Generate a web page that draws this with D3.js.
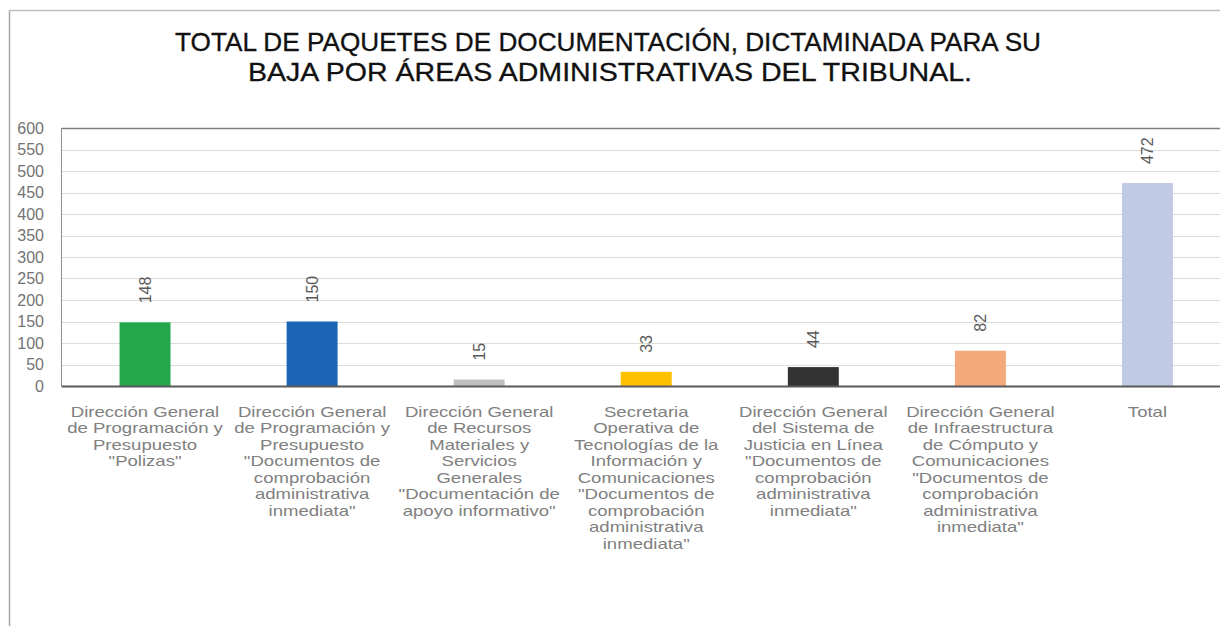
<!DOCTYPE html>
<html><head><meta charset="utf-8">
<script src="https://cdn.jsdelivr.net/npm/d3@7"></script>
<style>html,body{margin:0;padding:0;background:#fff;overflow:hidden}</style>
</head><body>
<script>
const titleLines = ["TOTAL DE PAQUETES DE DOCUMENTACIÓN, DICTAMINADA PARA SU", "BAJA POR ÁREAS ADMINISTRATIVAS DEL TRIBUNAL."];
const categories = [
  ["Dirección General", "de Programación y", "Presupuesto", "\"Polizas\""],
  ["Dirección General", "de Programación y", "Presupuesto", "\"Documentos de", "comprobación", "administrativa", "inmediata\""],
  ["Dirección General", "de Recursos", "Materiales y", "Servicios", "Generales", "\"Documentación de", "apoyo informativo\""],
  ["Secretaria", "Operativa de", "Tecnologías de la", "Información y", "Comunicaciones", "\"Documentos de", "comprobación", "administrativa", "inmediata\""],
  ["Dirección General", "del Sistema de", "Justicia en Línea", "\"Documentos de", "comprobación", "administrativa", "inmediata\""],
  ["Dirección General", "de Infraestructura", "de Cómputo y", "Comunicaciones", "\"Documentos de", "comprobación", "administrativa", "inmediata\""],
  ["Total"]
];
const values = [148, 150, 15, 33, 44, 82, 472];
const colors = ["#22a84b", "#1a66b5", "#bfbfbf", "#ffc000", "#333333", "#f4a97c", "#c1cae4"];
const yTicks = [0, 50, 100, 150, 200, 250, 300, 350, 400, 450, 500, 550, 600];

const W = 1220, H = 626;
const svg = d3.select("body").append("svg").attr("width", W).attr("height", H)
  .style("font-family", "'Liberation Sans', Arial, sans-serif");

// outer frame
svg.append("line").attr("x1", 9.5).attr("x2", 9.5).attr("y1", 10).attr("y2", H).attr("stroke", "#a6a6a6").attr("stroke-width", 1.5);
svg.append("line").attr("x1", 9).attr("x2", W).attr("y1", 10.5).attr("y2", 10.5).attr("stroke", "#bdbdbd").attr("stroke-width", 1.5);

// title
const tl = [[608, 51, 866], [610, 81, 724]];
titleLines.forEach((t, i) => {
  svg.append("text").attr("x", tl[i][0]).attr("y", tl[i][1]).attr("text-anchor", "middle")
    .attr("font-size", 25).attr("fill", "#111").attr("stroke", "#111").attr("stroke-width", 0.3)
    .attr("textLength", tl[i][2]).attr("lengthAdjust", "spacingAndGlyphs").text(t);
});

const plotL = 61.5, plotR = 1231, plotT = 128, plotB = 386;
const x = d3.scaleBand().domain(d3.range(values.length)).range([plotL, plotR]).paddingInner(0.695).paddingOuter(0.3475);
const y = d3.scaleLinear().domain([0, 600]).range([plotB, plotT]);

// gridlines
svg.append("g").selectAll("line").data(yTicks.filter(d => d > 0 && d < 600)).join("line")
  .attr("x1", plotL).attr("x2", W).attr("y1", d => Math.round(y(d)) + 0.5).attr("y2", d => Math.round(y(d)) + 0.5)
  .attr("stroke", "#dcdcdc").attr("stroke-width", 1);

// plot border
svg.append("line").attr("x1", plotL).attr("x2", W).attr("y1", plotT + 0.5).attr("y2", plotT + 0.5).attr("stroke", "#7f7f7f").attr("stroke-width", 1.5);
svg.append("line").attr("x1", plotL).attr("x2", plotL).attr("y1", plotT).attr("y2", plotB).attr("stroke", "#8c8c8c").attr("stroke-width", 1);

// bars
svg.append("g").selectAll("rect").data(values).join("rect")
  .attr("x", (d, i) => x(i)).attr("width", x.bandwidth())
  .attr("y", d => y(d)).attr("height", d => plotB - y(d))
  .attr("fill", (d, i) => colors[i]);

// axis line
svg.append("line").attr("x1", plotL).attr("x2", W).attr("y1", plotB + 0.5).attr("y2", plotB + 0.5).attr("stroke", "#595959").attr("stroke-width", 2);

// y axis labels
const yAxis = d3.axisLeft(y).tickValues(yTicks).tickSize(0).tickPadding(0);
const ga = svg.append("g").attr("transform", `translate(44,0)`).call(yAxis);
ga.select(".domain").remove();
ga.selectAll("text").attr("font-size", 16).attr("fill", "#737373").attr("font-family", "'Liberation Sans', Arial, sans-serif");

// data labels (rotated)
svg.append("g").selectAll("text").data(values).join("text")
  .attr("transform", (d, i) => `translate(${x(i) + x.bandwidth() / 2 + 6},${y(d) - 19}) rotate(-90)`)
  .attr("text-anchor", "start").attr("font-size", 16).attr("fill", "#595959").text(d => d);

// category labels (horizontally stretched like the reference)
const cg = svg.append("g");
categories.forEach((lines, i) => {
  const cx = x(i) + x.bandwidth() / 2;
  const t = cg.append("text").attr("text-anchor", "middle").attr("font-size", 14.5).attr("fill", "#808080")
    .attr("transform", `translate(${cx},0) scale(1.28,1)`);
  lines.forEach((ln, j) => {
    t.append("tspan").attr("x", 0).attr("y", 417 + j * 16.45).text(ln);
  });
});
</script>
</body></html>
